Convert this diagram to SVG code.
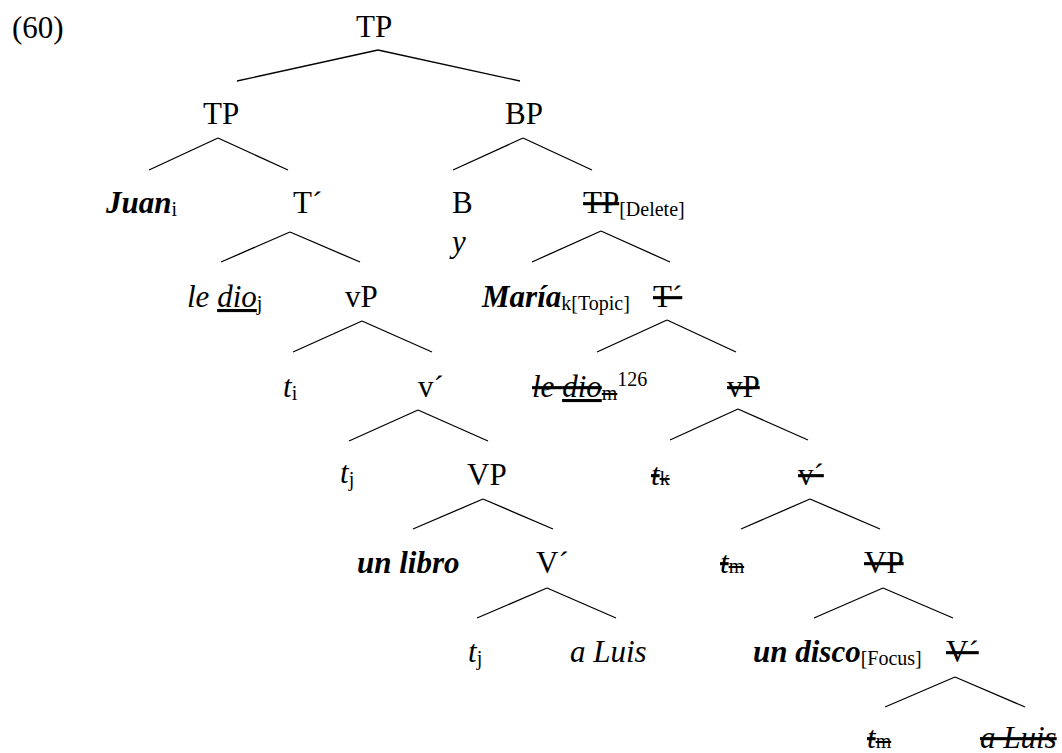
<svg xmlns="http://www.w3.org/2000/svg" width="1062" height="753" viewBox="0 0 1062 753">
<style>
text{font-family:'Liberation Serif',serif;font-size:31px;fill:#000}
.it{font-style:italic}
.bi{font-style:italic;font-weight:bold}
.sub{font-size:20px;font-style:normal;font-weight:normal}
.del{text-decoration:line-through}
.ul{text-decoration:underline}
.uldel{text-decoration:underline line-through}
#connectors line{stroke:#000;stroke-width:1.3}
</style>
<rect width="1062" height="753" fill="#fff"/>
<g id="connectors">
<line x1="378" y1="50" x2="237" y2="81"/><line x1="378" y1="50" x2="520" y2="81"/>
<line x1="218" y1="138" x2="149" y2="170"/><line x1="218" y1="138" x2="288" y2="170"/>
<line x1="523" y1="138" x2="453" y2="170"/><line x1="523" y1="138" x2="592" y2="170"/>
<line x1="290" y1="232" x2="221" y2="262"/><line x1="290" y1="232" x2="360" y2="262"/>
<line x1="601" y1="231" x2="532" y2="262"/><line x1="601" y1="231" x2="670" y2="262"/>
<line x1="362" y1="321" x2="293" y2="352"/><line x1="362" y1="321" x2="432" y2="352"/>
<line x1="667" y1="320" x2="597" y2="352"/><line x1="667" y1="320" x2="736" y2="352"/>
<line x1="418" y1="410" x2="349" y2="441"/><line x1="418" y1="410" x2="488" y2="441"/>
<line x1="738" y1="409" x2="670" y2="440"/><line x1="738" y1="409" x2="808" y2="440"/>
<line x1="483" y1="499" x2="413" y2="529"/><line x1="483" y1="499" x2="553" y2="529"/>
<line x1="810" y1="499" x2="741" y2="529"/><line x1="810" y1="499" x2="880" y2="529"/>
<line x1="547" y1="588" x2="477" y2="618"/><line x1="547" y1="588" x2="616" y2="618"/>
<line x1="883" y1="588" x2="814" y2="618"/><line x1="883" y1="588" x2="953" y2="618"/>
<line x1="955" y1="677" x2="885" y2="707"/><line x1="955" y1="677" x2="1025" y2="707"/>
</g>
<g id="label-60"><text x="12" y="38">(60)</text></g>
<g id="n-TP-root"><text x="356" y="37">TP</text></g>
<g id="n-TP-left"><text x="203" y="124">TP</text></g>
<g id="n-BP"><text x="505" y="124">BP</text></g>
<g id="n-Juan"><text x="106" y="213"><tspan class="bi">Juan</tspan><tspan class="sub" dy="3">i</tspan></text></g>
<g id="n-Tbar1"><text x="293" y="213">T´</text></g>
<g id="n-B"><text x="452" y="213">B</text><text class="it" x="452" y="252">y</text></g>
<g id="n-TP-delete"><text x="583" y="213"><tspan class="del">TP</tspan><tspan class="sub" dy="3">[Delete]</tspan></text></g>
<g id="n-ledio-j"><text x="187" y="307"><tspan class="it">le </tspan><tspan class="it ul">dio</tspan><tspan class="sub" dy="3">j</tspan></text></g>
<g id="n-vP1"><text x="345" y="307">vP</text></g>
<g id="n-Maria"><text x="482" y="307"><tspan class="bi">María</tspan><tspan class="sub" dy="3">k[Topic]</tspan></text></g>
<g id="n-Tbar2"><text x="653" y="307" class="del">T´</text></g>
<g id="n-ti"><text x="283" y="397"><tspan class="it">t</tspan><tspan class="sub" dy="3">i</tspan></text></g>
<g id="n-vbar1"><text x="418" y="397">v´</text></g>
<g id="n-ledio-m"><text x="532" y="397"><tspan class="it del">le </tspan><tspan class="it uldel">dio</tspan><tspan class="sub del" dy="3">m</tspan><tspan class="sub" dy="-14">126</tspan></text></g>
<g id="n-vP2"><text x="727" y="397" class="del">vP</text></g>
<g id="n-tj1"><text x="340" y="483"><tspan class="it">t</tspan><tspan class="sub" dy="3">j</tspan></text></g>
<g id="n-VP1"><text x="467" y="485">VP</text></g>
<g id="n-tk"><text x="651" y="485" class="del"><tspan class="it">t</tspan><tspan class="sub">k</tspan></text></g>
<g id="n-vbar2"><text x="798" y="485" class="del">v´</text></g>
<g id="n-unlibro"><text x="357" y="573" class="bi">un libro</text></g>
<g id="n-Vbar1"><text x="536" y="573">V´</text></g>
<g id="n-tm1"><text x="720" y="573" class="del"><tspan class="it">t</tspan><tspan class="sub">m</tspan></text></g>
<g id="n-VP2"><text x="864" y="573" class="del">VP</text></g>
<g id="n-tj2"><text x="468" y="662"><tspan class="it">t</tspan><tspan class="sub" dy="3">j</tspan></text></g>
<g id="n-aLuis1"><text x="570" y="662" class="it">a Luis</text></g>
<g id="n-undisco"><text x="753" y="662"><tspan class="bi">un disco</tspan><tspan class="sub" dy="3">[Focus]</tspan></text></g>
<g id="n-Vbar2"><text x="946" y="662" class="del">V´</text></g>
<g id="n-tm2"><text x="867" y="748" class="del"><tspan class="it">t</tspan><tspan class="sub">m</tspan></text></g>
<g id="n-aLuis2"><text x="980" y="748" class="it del">a Luis</text></g>
</svg>
